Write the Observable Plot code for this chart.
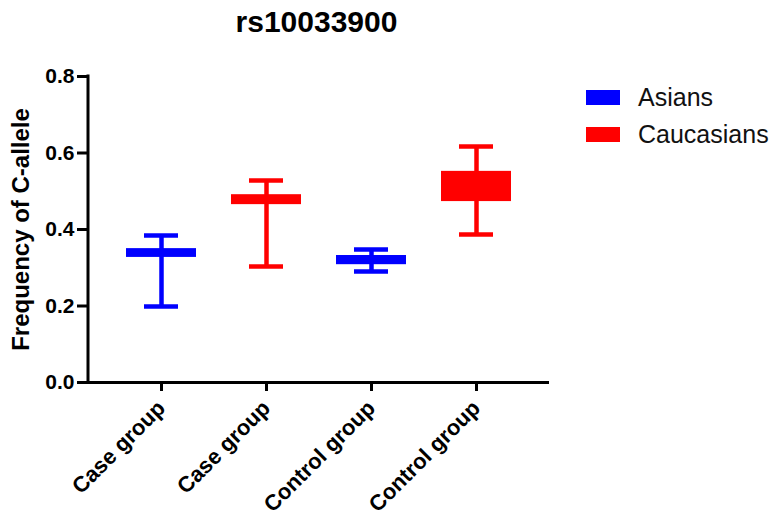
<!DOCTYPE html>
<html>
<head>
<meta charset="utf-8">
<script src="https://cdn.jsdelivr.net/npm/d3@7"></script>
<script src="https://cdn.jsdelivr.net/npm/@observablehq/plot@0.6"></script>
<style>
  html, body { margin: 0; padding: 0; background: #fff; }
  #wrap { position: relative; width: 770px; height: 520px; font-family: "Liberation Sans", Arial, sans-serif; }
  #title { position: absolute; left: 0; width: 633px; top: 5px; text-align: center; font-weight: bold; font-size: 30px; color: #000; }
  #legend { position: absolute; left: 586px; top: 79px; font-size: 25px; color: #111; }
  .item { display: flex; align-items: center; height: 37px; }
  .sw { width: 34px; height: 15px; margin-right: 18px; }
  svg { position: absolute; left: 0; top: 0; }
</style>
</head>
<body>
<div id="wrap">
  <div id="title">rs10033900</div>
  <div id="legend"></div>
</div>
<script>
const groups = ["Case group", "Case group", "Control group", "Control group"];
const populations = ["Asians", "Caucasians", "Asians", "Caucasians"];
const whiskerLow = [0.199, 0.303, 0.290, 0.387];
const q1 = [0.327, 0.465, 0.308, 0.473];
const median = [0.340, 0.480, 0.320, 0.510];
const q3 = [0.350, 0.491, 0.332, 0.552];
const whiskerHigh = [0.384, 0.528, 0.348, 0.617];
const yTicks = [0, 0.2, 0.4, 0.6, 0.8];
const yLabel = "Frequency of C-allele";
const legendNames = ["Asians", "Caucasians"];
const legendColors = ["#0000ff", "#ff0000"];

const data = groups.map((g, i) => ({
  key: String(i), group: g, pop: populations[i],
  lo: whiskerLow[i], q1: q1[i], med: median[i], q3: q3[i], hi: whiskerHigh[i]
}));

const marginLeft = 88, marginRight = 221, marginTop = 76, marginBottom = 138;

const chart = Plot.plot({
  width: 770,
  height: 520,
  marginLeft, marginRight, marginTop, marginBottom,
  style: { fontFamily: "Liberation Sans, Arial, sans-serif", color: "#000", background: "transparent" },
  x: { type: "band", domain: data.map(d => d.key), paddingInner: 0.33, paddingOuter: 0.34 },
  y: { domain: [0, 0.8] },
  color: { domain: legendNames, range: legendColors },
  marks: [
    Plot.ruleX(data, { x: "key", y1: "lo", y2: "hi", stroke: "pop", strokeWidth: 4.5 }),
    Plot.tickY(data, { x: "key", y: "lo", stroke: "pop", strokeWidth: 4.5, insetLeft: 18, insetRight: 18 }),
    Plot.tickY(data, { x: "key", y: "hi", stroke: "pop", strokeWidth: 4.5, insetLeft: 18, insetRight: 18 }),
    Plot.barY(data, { x: "key", y1: "q1", y2: "q3", fill: "pop", insetLeft: 0, insetRight: 0 }),
    Plot.tickY(data, { x: "key", y: "med", stroke: "pop", strokeWidth: 3 }),
    Plot.ruleY([0], { stroke: "#000", strokeWidth: 3 }),
    Plot.axisY({
      ticks: yTicks, tickFormat: d => d.toFixed(1), tickSize: 11, tickPadding: 3,
      strokeWidth: 3, fontSize: 21, fontWeight: "bold", label: null
    }),
    Plot.text([yLabel], {
      text: d => d, frameAnchor: "left", textAnchor: "middle", lineAnchor: "middle",
      rotate: -90, dx: -67, fontSize: 24, fontWeight: "bold", fill: "#000"
    }),
    Plot.axisX({
      tickFormat: k => groups[+k], tickSize: 9, tickPadding: 13, tickRotate: -45,
      strokeWidth: 3, fontSize: 22, fontWeight: "bold", label: null
    })
  ]
});

const y = chart.scale("y");
d3.select(chart).append("line")
  .attr("x1", marginLeft).attr("x2", marginLeft)
  .attr("y1", y.apply(0.8) - 1.5).attr("y2", y.apply(0) + 1.5)
  .attr("stroke", "#000").attr("stroke-width", 3);

document.getElementById("wrap").appendChild(chart);

const legend = document.getElementById("legend");
legendNames.forEach((n, i) => {
  const item = document.createElement("div");
  item.className = "item";
  item.innerHTML = `<div class="sw" style="background:${legendColors[i]}"></div><span>${n}</span>`;
  legend.appendChild(item);
});
</script>
</body>
</html>
